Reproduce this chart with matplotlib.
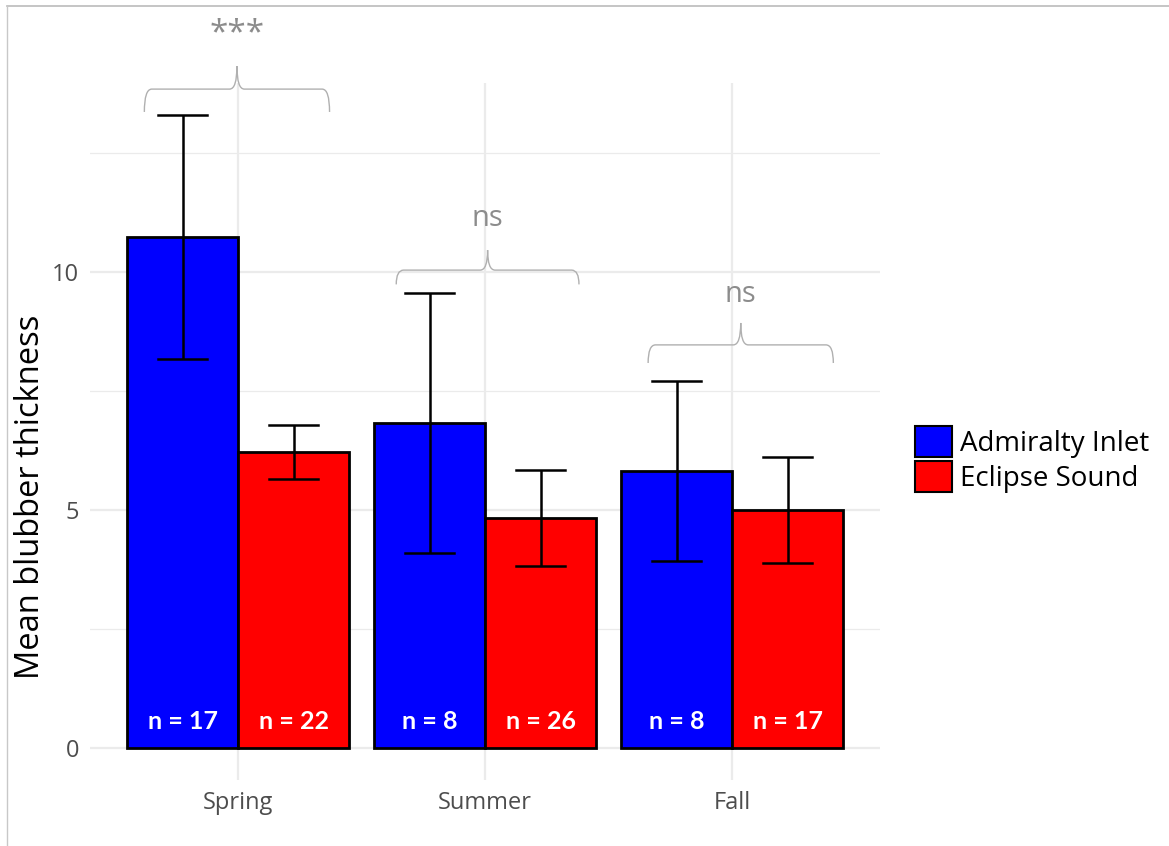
import numpy as np
import matplotlib
matplotlib.use("Agg")
import matplotlib.pyplot as plt
from matplotlib.path import Path
from matplotlib.patches import PathPatch, Patch
from matplotlib.lines import Line2D

# ---- data ----
seasons = ["Spring", "Summer", "Fall"]
sites = ["Admiralty Inlet", "Eclipse Sound"]
site_colors = ["#0000FF", "#FF0000"]
admiralty_mean = [10.74, 6.83, 5.82]
admiralty_sd = [2.56, 2.73, 1.89]
eclipse_mean = [6.22, 4.83, 5.00]
eclipse_sd = [0.57, 1.01, 1.11]
admiralty_n = [17, 8, 8]
eclipse_n = [22, 26, 17]
sig_labels = ["***", "ns", "ns"]
bracket_y = [13.84, 10.04, 8.47]
bracket_span = [(0.62, 1.37), (1.64, 2.38), (2.66, 3.41)]
label_y = [15.0, 11.13, 9.52]

means = [admiralty_mean, eclipse_mean]
sds = [admiralty_sd, eclipse_sd]
counts = [admiralty_n, eclipse_n]

fig = plt.figure(figsize=(11.69, 8.46), dpi=100)
ax = fig.add_axes([0.077, 0.078, 0.676, 0.824])

x = np.arange(1, len(seasons) + 1)
width = 0.45
grid_col = "#EBEBEB"

# grid (minimal theme)
for yv in [0, 5, 10]:
    ax.axhline(yv, color=grid_col, lw=1.6, zorder=0)
for yv in [2.5, 7.5, 12.5]:
    ax.axhline(yv, color=grid_col, lw=0.9, zorder=0)
for xv in x:
    ax.axvline(xv, color=grid_col, lw=1.6, zorder=0)

for i in range(2):
    pos = x + (i - 0.5) * width
    ax.bar(pos, means[i], width=width, color=site_colors[i],
           edgecolor="black", linewidth=2, zorder=2)
    ax.errorbar(pos, means[i], yerr=sds[i], fmt="none", ecolor="black",
                elinewidth=1.8, capsize=0, zorder=3)
    for p, m, s in zip(pos, means[i], sds[i]):
        ax.plot([p - 0.1, p + 0.1], [m + s, m + s], color="black", lw=1.8, zorder=3)
        ax.plot([p - 0.1, p + 0.1], [m - s, m - s], color="black", lw=1.8, zorder=3)
    for p, n in zip(pos, counts[i]):
        ax.text(p, 0.32, f"n = {n}", color="white", ha="center", va="bottom",
                fontsize=18, fontweight="bold", family="Lato", zorder=4)


def brace(x0, x1, y, drop, rise):
    """Curly brace across [x0, x1] at height y, cusp pointing up at the middle."""
    xm = (x0 + x1) / 2
    e = 0.03
    verts = [
        (x0, y - drop), (x0, y), (x0 + e, y),
        (xm - e, y), (xm, y), (xm, y + rise),
        (xm, y), (xm + e, y),
        (x1 - e, y), (x1, y), (x1, y - drop),
    ]
    codes = [Path.MOVETO, Path.CURVE3, Path.CURVE3,
             Path.LINETO, Path.CURVE3, Path.CURVE3,
             Path.CURVE3, Path.CURVE3,
             Path.LINETO, Path.CURVE3, Path.CURVE3]
    return PathPatch(Path(verts, codes), fill=False, edgecolor="#B0B0B0",
                     lw=1.0, clip_on=False, zorder=5)


drops = [0.48, 0.3, 0.38]
rises = [0.48, 0.42, 0.46]
for (x0, x1), yb, lab, ly, d, r in zip(bracket_span, bracket_y, sig_labels,
                                       label_y, drops, rises):
    ax.add_patch(brace(x0, x1, yb, d, r))
    ax.text((x0 + x1) / 2, ly, lab, ha="center", va="center", color="#8C8C8C",
            fontsize=21 if lab == "ns" else 24, clip_on=False, family="Open Sans")

ax.set_xlim(0.4, 3.6)
ax.set_ylim(-0.665, 13.97)
ax.set_xticks(x)
ax.set_xticklabels(seasons, fontsize=17, color="#4D4D4D", family="Open Sans")
ax.set_yticks([0, 5, 10])
ax.set_yticklabels(["0", "5", "10"], fontsize=17, color="#4D4D4D", family="Open Sans")
ax.tick_params(length=0, pad=8)
ax.tick_params(axis="x", pad=8)
for s in ax.spines.values():
    s.set_visible(False)
ax.set_ylabel("Mean blubber thickness", fontsize=23.5, family="Open Sans")
ax.yaxis.set_label_coords(-0.054, 0.406)

handles = [Patch(facecolor=c, edgecolor="black", linewidth=1.5) for c in site_colors]
leg = fig.legend(handles, sites, loc="center left", bbox_to_anchor=(0.761, 0.457),
                 frameon=False, handlelength=1.35, handleheight=1.35,
                 handletextpad=0.3, labelspacing=0.12,
                 prop={"family": "Open Sans", "size": 20})

# outer frame lines
fig.add_artist(Line2D([0.006, 1.0], [0.993, 0.993], color="#BBBBBB", lw=1.2,
                      transform=fig.transFigure))
fig.add_artist(Line2D([0.006, 0.006], [0.0, 0.993], color="#C8C8C8", lw=1.0,
                      transform=fig.transFigure))

fig.savefig("out.png", dpi=100)
